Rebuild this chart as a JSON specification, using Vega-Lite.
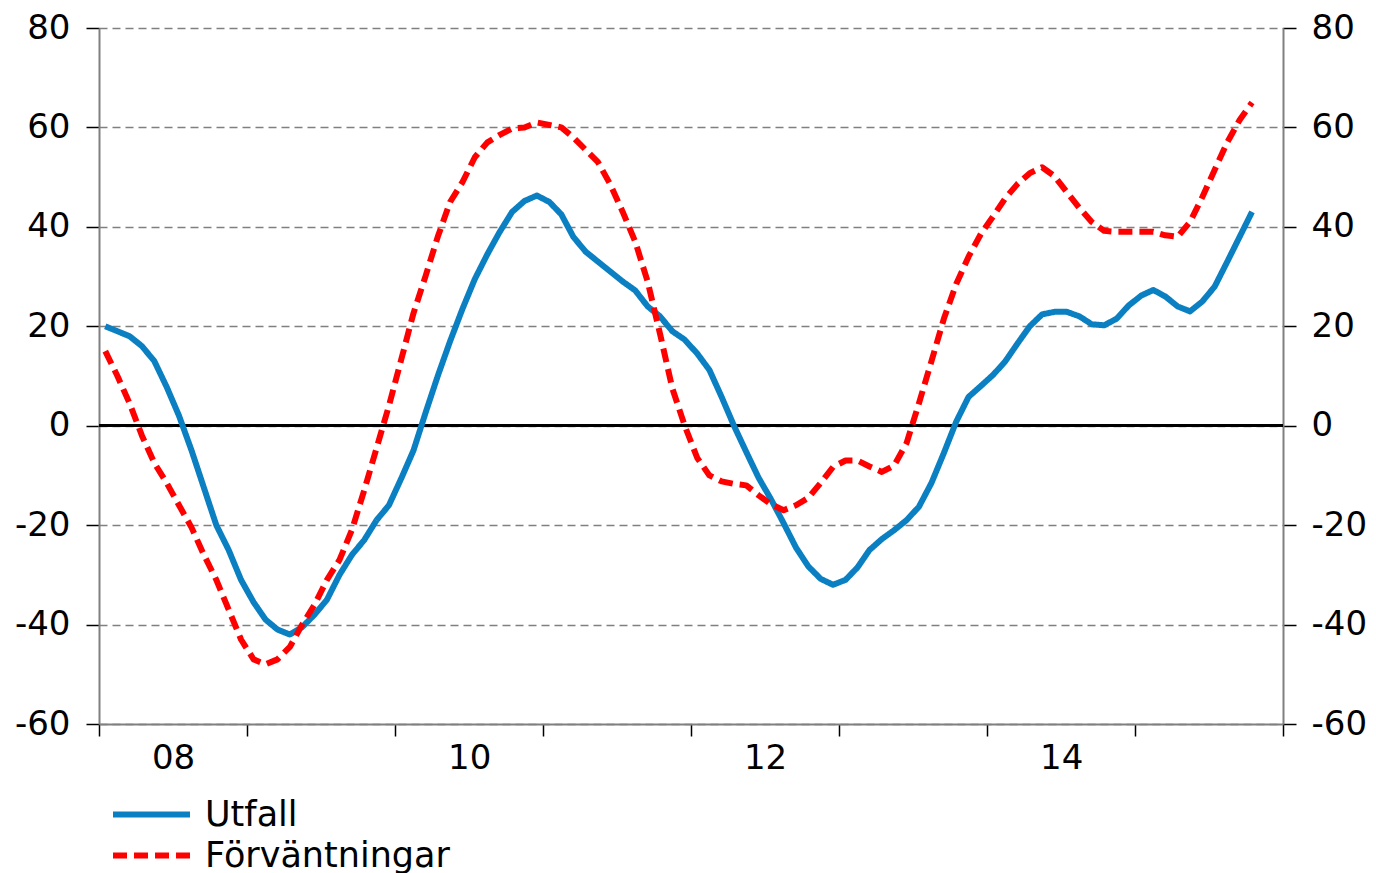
{
  "$schema": "https://vega.github.io/schema/vega-lite/v6.json",
  "width": 1184,
  "height": 696,
  "autosize": {"type": "none"},
  "padding": {"left": 99, "top": 28, "right": 93, "bottom": 149},
  "background": "white",
  "config": {
    "view": {"stroke": null},
    "font": "DejaVu Sans",
    "axis": {"labelFont": "DejaVu Sans", "labelFontSize": 34, "labelColor": "#000000", "domainColor": "#808080", "domainWidth": 2, "tickColor": "#000000", "tickWidth": 1.5, "title": null}
  },
  "data": {
    "values": [
      {"d": "2008-01", "u": 20, "f": 15},
      {"d": "2008-02", "u": 19, "f": 10},
      {"d": "2008-03", "u": 18, "f": 4.5},
      {"d": "2008-04", "u": 16, "f": -2},
      {"d": "2008-05", "u": 13, "f": -7.5},
      {"d": "2008-06", "u": 7.8, "f": -11.5},
      {"d": "2008-07", "u": 2, "f": -16},
      {"d": "2008-08", "u": -5, "f": -20.5},
      {"d": "2008-09", "u": -12.5, "f": -26},
      {"d": "2008-10", "u": -20, "f": -31},
      {"d": "2008-11", "u": -25, "f": -37},
      {"d": "2008-12", "u": -31, "f": -43},
      {"d": "2009-01", "u": -35.5, "f": -47},
      {"d": "2009-02", "u": -39, "f": -48},
      {"d": "2009-03", "u": -41, "f": -47},
      {"d": "2009-04", "u": -42, "f": -44.5},
      {"d": "2009-05", "u": -40.5, "f": -40},
      {"d": "2009-06", "u": -38, "f": -36},
      {"d": "2009-07", "u": -35, "f": -31},
      {"d": "2009-08", "u": -30, "f": -27},
      {"d": "2009-09", "u": -26, "f": -21},
      {"d": "2009-10", "u": -23, "f": -13},
      {"d": "2009-11", "u": -19, "f": -4.5},
      {"d": "2009-12", "u": -16, "f": 4},
      {"d": "2010-01", "u": -10.5, "f": 13.5},
      {"d": "2010-02", "u": -5, "f": 22.6},
      {"d": "2010-03", "u": 2.5, "f": 30},
      {"d": "2010-04", "u": 10, "f": 38},
      {"d": "2010-05", "u": 17, "f": 45},
      {"d": "2010-06", "u": 23.5, "f": 49},
      {"d": "2010-07", "u": 29.5, "f": 54},
      {"d": "2010-08", "u": 34.5, "f": 57},
      {"d": "2010-09", "u": 39, "f": 58.5},
      {"d": "2010-10", "u": 43, "f": 59.8},
      {"d": "2010-11", "u": 45.2, "f": 60},
      {"d": "2010-12", "u": 46.3, "f": 61},
      {"d": "2011-01", "u": 45, "f": 60.5},
      {"d": "2011-02", "u": 42.5, "f": 60},
      {"d": "2011-03", "u": 38, "f": 58},
      {"d": "2011-04", "u": 35, "f": 55.5},
      {"d": "2011-05", "u": 33, "f": 53},
      {"d": "2011-06", "u": 31, "f": 48.5},
      {"d": "2011-07", "u": 29, "f": 43},
      {"d": "2011-08", "u": 27.2, "f": 37},
      {"d": "2011-09", "u": 24, "f": 29},
      {"d": "2011-10", "u": 22, "f": 18.5},
      {"d": "2011-11", "u": 19, "f": 7.5},
      {"d": "2011-12", "u": 17.3, "f": 0},
      {"d": "2012-01", "u": 14.5, "f": -6.5},
      {"d": "2012-02", "u": 11.2, "f": -10},
      {"d": "2012-03", "u": 5.8, "f": -11.2},
      {"d": "2012-04", "u": 0, "f": -11.7},
      {"d": "2012-05", "u": -5.3, "f": -12},
      {"d": "2012-06", "u": -10.5, "f": -14},
      {"d": "2012-07", "u": -14.8, "f": -15.8},
      {"d": "2012-08", "u": -19.6, "f": -17},
      {"d": "2012-09", "u": -24.5, "f": -16},
      {"d": "2012-10", "u": -28.3, "f": -14.5},
      {"d": "2012-11", "u": -30.8, "f": -11.5},
      {"d": "2012-12", "u": -32, "f": -8.3},
      {"d": "2013-01", "u": -31, "f": -7},
      {"d": "2013-02", "u": -28.5, "f": -7},
      {"d": "2013-03", "u": -25, "f": -8.2},
      {"d": "2013-04", "u": -22.8, "f": -9.3},
      {"d": "2013-05", "u": -21, "f": -8},
      {"d": "2013-06", "u": -19, "f": -3.5},
      {"d": "2013-07", "u": -16.3, "f": 4.5},
      {"d": "2013-08", "u": -11.5, "f": 13},
      {"d": "2013-09", "u": -5.5, "f": 21.5},
      {"d": "2013-10", "u": 0.8, "f": 28.5},
      {"d": "2013-11", "u": 5.8, "f": 34},
      {"d": "2013-12", "u": 8, "f": 38.6},
      {"d": "2014-01", "u": 10.3, "f": 42.2},
      {"d": "2014-02", "u": 13, "f": 45.8},
      {"d": "2014-03", "u": 16.5, "f": 48.6},
      {"d": "2014-04", "u": 20, "f": 50.8},
      {"d": "2014-05", "u": 22.4, "f": 52},
      {"d": "2014-06", "u": 22.9, "f": 50.2},
      {"d": "2014-07", "u": 22.9, "f": 47},
      {"d": "2014-08", "u": 22, "f": 43.8},
      {"d": "2014-09", "u": 20.4, "f": 41},
      {"d": "2014-10", "u": 20.2, "f": 39.2},
      {"d": "2014-11", "u": 21.5, "f": 39},
      {"d": "2014-12", "u": 24.2, "f": 39},
      {"d": "2015-01", "u": 26.2, "f": 39},
      {"d": "2015-02", "u": 27.3, "f": 39},
      {"d": "2015-03", "u": 26, "f": 38.3},
      {"d": "2015-04", "u": 24, "f": 38},
      {"d": "2015-05", "u": 23, "f": 41},
      {"d": "2015-06", "u": 25, "f": 46},
      {"d": "2015-07", "u": 28, "f": 51.5},
      {"d": "2015-08", "u": 33, "f": 57},
      {"d": "2015-09", "u": 38, "f": 61.5},
      {"d": "2015-10", "u": 43, "f": 65}
    ]
  },
  "layer": [
    {
      "mark": {"type": "rule", "color": "#000000", "strokeWidth": 2.5},
      "encoding": {
        "y": {"datum": 0, "type": "quantitative", "scale": {"domain": [-60, 80]}, "axis": null}
      }
    },
    {
      "mark": {"type": "line", "strokeWidth": 6, "strokeCap": "butt", "strokeJoin": "round"},
      "encoding": {
        "x": {
          "field": "d", "type": "temporal", "timeUnit": "utcyearmonth", "bandPosition": 0.5,
          "scale": {"type": "utc", "domain": [{"year": 2008, "month": 1, "date": 1, "utc": true}, {"year": 2016, "month": 1, "date": 1, "utc": true}]},
          "axis": {
            "values": [
              {"year": 2008, "month": 1, "date": 1, "utc": true},
              {"year": 2009, "month": 1, "date": 1, "utc": true},
              {"year": 2010, "month": 1, "date": 1, "utc": true},
              {"year": 2011, "month": 1, "date": 1, "utc": true},
              {"year": 2012, "month": 1, "date": 1, "utc": true},
              {"year": 2013, "month": 1, "date": 1, "utc": true},
              {"year": 2014, "month": 1, "date": 1, "utc": true},
              {"year": 2015, "month": 1, "date": 1, "utc": true},
              {"year": 2016, "month": 1, "date": 1, "utc": true}
            ],
            "labelExpr": "utcyear(datum.value) % 2 == 0 && utcyear(datum.value) < 2016 ? utcFormat(datum.value, '%y') : ''",
            "labelOffset": 74, "labelAlign": "center", "labelFlush": false, "labelOverlap": false,
            "grid": false, "tickSize": 12, "labelPadding": 5, "title": null
          }
        },
        "y": {
          "field": "u", "type": "quantitative", "scale": {"domain": [-60, 80]},
          "axis": {"orient": "left", "values": [-60, -40, -20, 0, 20, 40, 60, 80], "labelExpr": "datum.value < 0 ? '-' + abs(datum.value) : '' + datum.value", "grid": true, "gridColor": "#808080", "gridDash": [8, 5], "gridWidth": 1.5, "tickSize": 13, "labelPadding": 16, "title": null}
        },
        "color": {"datum": "Utfall", "scale": {"domain": ["Utfall", "Förväntningar"], "range": ["#0A7FC1", "#FF0000"]},
          "legend": {"values": ["Utfall", "Förväntningar"], "orient": "none", "legendX": 34, "legendY": 768, "title": null, "direction": "vertical", "symbolType": "M-2.5,0H2.5", "symbolSize": 948, "symbolStrokeWidth": 6, "labelFontSize": 35, "labelFont": "DejaVu Sans", "labelColor": "#000000", "labelOffset": 35, "labelLimit": 500, "rowPadding": 4}},
        "strokeDash": {"datum": "Utfall", "scale": {"domain": ["Utfall", "Förväntningar"], "range": [[1, 0], [14, 7]]}, "legend": {"values": ["Utfall", "Förväntningar"]}}
      }
    },
    {
      "mark": {"type": "line", "strokeWidth": 6, "strokeCap": "butt", "strokeJoin": "round"},
      "encoding": {
        "x": {
          "field": "d", "type": "temporal", "timeUnit": "utcyearmonth", "bandPosition": 0.5
        },
        "y": {
          "field": "f", "type": "quantitative", "scale": {"domain": [-60, 80]},
          "axis": {"orient": "right", "values": [-60, -40, -20, 0, 20, 40, 60, 80], "labelExpr": "datum.value < 0 ? '-' + abs(datum.value) : '' + datum.value", "grid": false, "tickSize": 13, "labelPadding": 15, "title": null}
        },
        "color": {"datum": "Förväntningar"},
        "strokeDash": {"datum": "Förväntningar"}
      }
    }
  ],
  "resolve": {"axis": {"y": "independent"}}
}
